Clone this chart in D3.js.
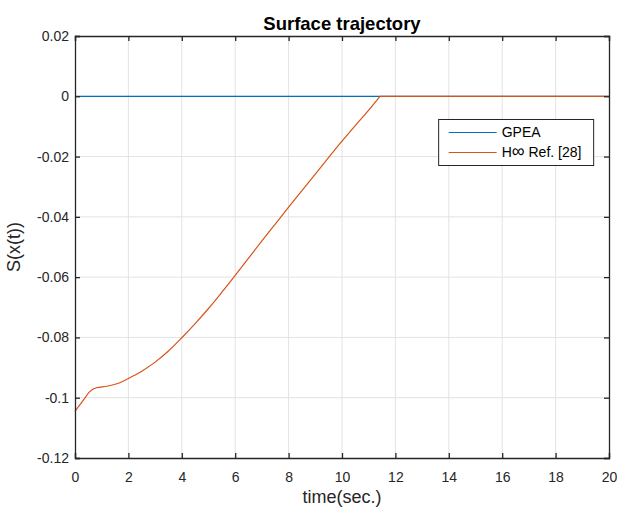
<!DOCTYPE html>
<html>
<head>
<meta charset="utf-8">
<script src="https://cdn.jsdelivr.net/npm/d3@7"></script>
<style>
  body { margin: 0; background: #fff; }
  svg { font-family: "Liberation Sans", Arial, Helvetica, sans-serif; }
</style>
</head>
<body>
<div id="chart"></div>
<script>
// data
var timeGPEA = [0, 20];
var sGPEA = [0, 0];

var timeHinf = [0, 0.3, 0.55, 0.8, 1.2, 1.6, 2, 2.5, 3, 3.5, 4, 4.5, 5, 5.5, 6, 6.5, 7, 7.5, 8, 8.5, 9, 9.5, 10, 10.5, 11, 11.42, 12, 20];
var sHinf = [-0.1045, -0.1010, -0.0980, -0.0967, -0.0962, -0.0953, -0.0936, -0.0912, -0.0882, -0.0845, -0.0801, -0.0754, -0.0704, -0.0650, -0.0594, -0.0537, -0.0480, -0.0424, -0.0368, -0.0313, -0.0258, -0.0203, -0.0149, -0.0097, -0.0046, 0, 0, 0];
var hinfReach = 11.42; // time the H-inf surface hits zero (sharp corner there)

var xTicks = [0, 2, 4, 6, 8, 10, 12, 14, 16, 18, 20];
var yTicks = [0.02, 0, -0.02, -0.04, -0.06, -0.08, -0.1, -0.12];
var seriesNames = ["GPEA", "H\u221E Ref. [28]"];
var seriesColors = ["#0072BD", "#D95319"];

var margin = {top: 36, right: 8, bottom: 53, left: 75},
    width = 617 - margin.left - margin.right,
    height = 511 - margin.top - margin.bottom;

var svg = d3.select("#chart")
  .append("svg")
    .attr("width", 617)
    .attr("height", 511)
  .append("g")
    .attr("transform", "translate(" + margin.left + "," + margin.top + ")");

var x = d3.scaleLinear().domain([0, 20]).range([0, width]);
var y = d3.scaleLinear().domain([-0.12, 0.02]).range([height, 0]);

// grid
svg.append("g").selectAll("line")
  .data(xTicks.slice(1, -1))
  .enter().append("line")
    .attr("x1", function(d) { return x(d); })
    .attr("x2", function(d) { return x(d); })
    .attr("y1", 0).attr("y2", height)
    .style("stroke", "#e3e3e3").style("stroke-width", 1);
svg.append("g").selectAll("line")
  .data(yTicks.slice(1, -1))
  .enter().append("line")
    .attr("y1", function(d) { return y(d); })
    .attr("y2", function(d) { return y(d); })
    .attr("x1", 0).attr("x2", width)
    .style("stroke", "#e3e3e3").style("stroke-width", 1);

// lines
var line = d3.line()
  .x(function(d) { return x(d[0]); })
  .y(function(d) { return y(d[1]); })
  .curve(d3.curveMonotoneX);

svg.append("path")
  .datum(d3.zip(timeGPEA, sGPEA))
  .attr("d", line)
  .style("fill", "none").style("stroke", seriesColors[0]).style("stroke-width", 1.2);

var hinfPts = d3.zip(timeHinf, sHinf);
var rising = hinfPts.filter(function(d) { return d[0] <= hinfReach; });
var flat = hinfPts.filter(function(d) { return d[0] >= hinfReach; });
[rising, flat].forEach(function(pts) {
  svg.append("path")
    .datum(pts)
    .attr("d", line)
    .style("fill", "none").style("stroke", seriesColors[1]).style("stroke-width", 1.2);
});

// axes (ticks pointing inward, box around)
var fmtY = function(d) { return d === 0 ? "0" : String(+d.toFixed(2)); };
svg.append("g")
  .attr("transform", "translate(0," + height + ")")
  .call(d3.axisBottom(x).tickValues(xTicks).tickSize(-5).tickPadding(14).tickFormat(d3.format("d")));
svg.append("g")
  .call(d3.axisLeft(y).tickValues(yTicks).tickSize(-5).tickPadding(6).tickFormat(fmtY));
svg.append("g")
  .call(d3.axisTop(x).tickValues(xTicks).tickSize(-5).tickFormat(""));
svg.append("g")
  .attr("transform", "translate(" + width + ",0)")
  .call(d3.axisRight(y).tickValues(yTicks).tickSize(-5).tickFormat(""));

svg.selectAll(".domain").style("stroke", "#262626").style("stroke-width", 1.3);
svg.selectAll(".tick line").style("stroke", "#262626").style("stroke-width", 1.3);
svg.selectAll(".tick text")
  .style("font-size", "14px").style("fill", "#262626")
  .style("font-family", "'Liberation Sans', Arial, sans-serif");

// title and labels
svg.append("text")
  .attr("x", width / 2).attr("y", -6)
  .attr("text-anchor", "middle")
  .style("font-size", "18.5px").style("font-weight", "bold").style("fill", "#000")
  .text("Surface trajectory");

svg.append("text")
  .attr("x", width / 2).attr("y", height + 45)
  .attr("text-anchor", "middle")
  .style("font-size", "18px").style("fill", "#262626")
  .text("time(sec.)");

svg.append("text")
  .attr("transform", "translate(" + (-55) + "," + (height / 2) + ") rotate(-90)")
  .attr("text-anchor", "middle")
  .style("font-size", "18px").style("fill", "#262626")
  .text("S(x(t))");

// legend
var lg = svg.append("g").attr("transform", "translate(" + (x(13.62)) + "," + (y(-0.0077)) + ")");
lg.append("rect")
  .attr("width", 155).attr("height", 46)
  .style("fill", "#fff").style("stroke", "#262626").style("stroke-width", 1);
seriesNames.forEach(function(name, i) {
  lg.append("line")
    .attr("x1", 10).attr("x2", 58)
    .attr("y1", 13 + i * 20).attr("y2", 13 + i * 20)
    .style("stroke", seriesColors[i]).style("stroke-width", 1.2);
  var t = lg.append("text")
    .attr("x", 63).attr("y", 13 + i * 20)
    .attr("dy", "0.35em")
    .style("font-size", "14px").style("fill", "#000");
  // the infinity sign is drawn a little larger, as in the original
  name.split(/(\u221E)/).forEach(function(part) {
    if (!part) return;
    t.append("tspan")
      .style("font-size", part === "\u221E" ? "18px" : null)
      .text(part);
  });
});
</script>
</body>
</html>
